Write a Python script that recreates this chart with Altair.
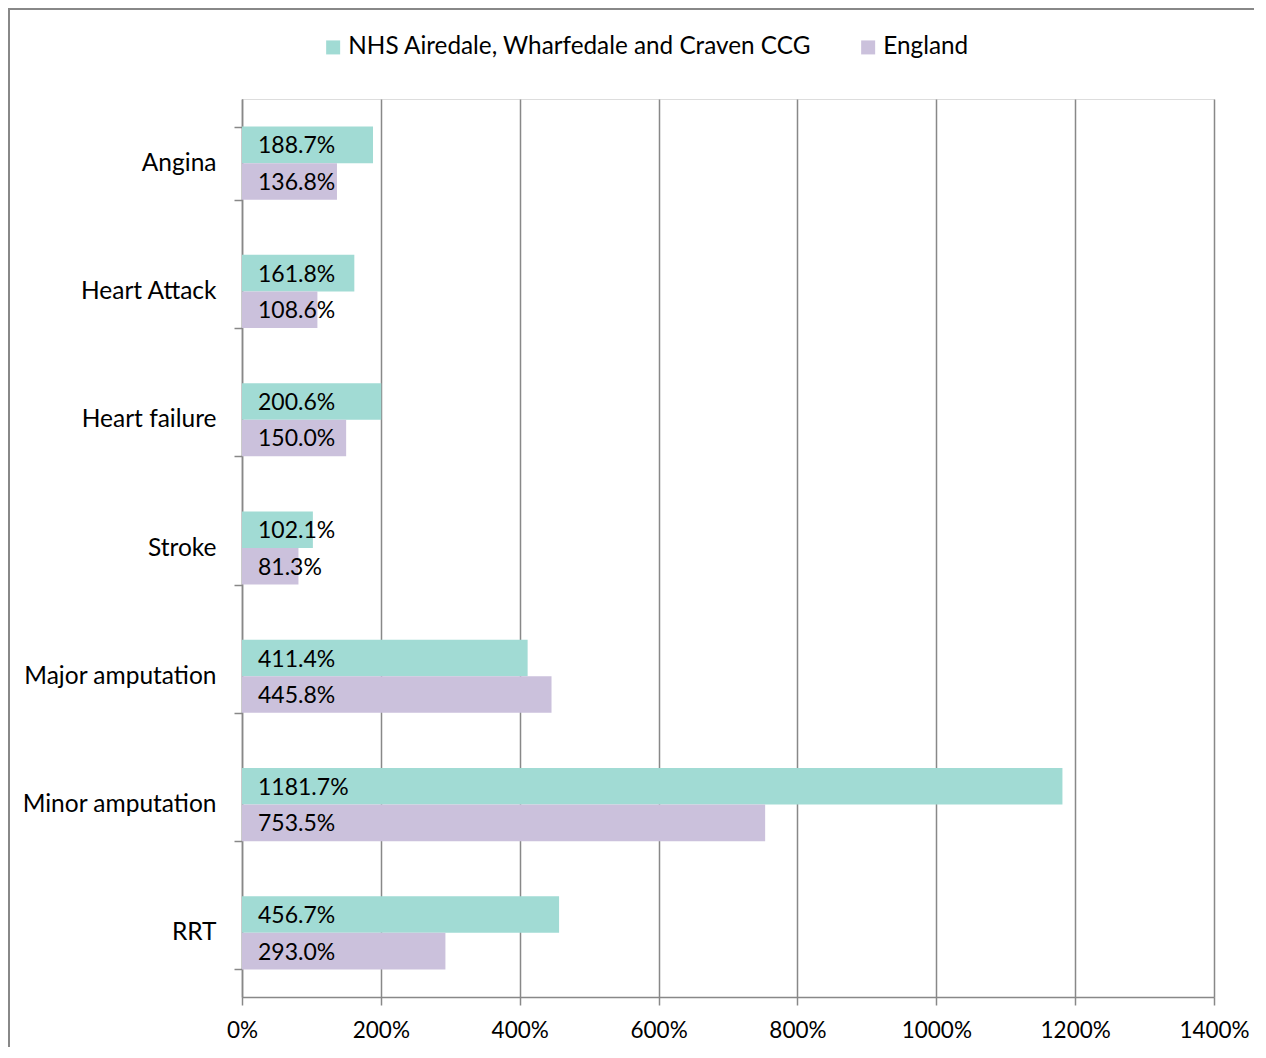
import altair as alt
import pandas as pd

categories = ["Angina", "Heart Attack", "Heart failure", "Stroke",
              "Major amputation", "Minor amputation", "RRT"]
series_names = ["NHS Airedale, Wharfedale and Craven CCG", "England"]
ccg_values = [188.7, 161.8, 200.6, 102.1, 411.4, 1181.7, 456.7]
england_values = [136.8, 108.6, 150.0, 81.3, 445.8, 753.5, 293.0]
x_ticks = [0, 200, 400, 600, 800, 1000, 1200, 1400]
colors = ["#A1DBD4", "#CBC1DC"]

rows = []
for c, a, b in zip(categories, ccg_values, england_values):
    rows.append({"category": c, "series": series_names[0], "value": a, "order": 0})
    rows.append({"category": c, "series": series_names[1], "value": b, "order": 1})
df = pd.DataFrame(rows)

FONT = "Lato"
W, H = 972, 898

base = alt.Chart(df).encode(
    y=alt.Y("category:N", sort=categories, title=None,
            scale=alt.Scale(paddingInner=0.43, paddingOuter=0.215),
            axis=alt.Axis(tickBand="extent", tickSize=8, labelPadding=18,
                          labelFontSize=24.5, labelColor="#000000", labelFont=FONT,
                          labelLimit=400,
                          domainColor="#888888", tickColor="#888888",
                          domainWidth=1.5, tickWidth=1.5, grid=False)),
    yOffset=alt.YOffset("series:N", sort=series_names,
                        scale=alt.Scale(paddingInner=0, paddingOuter=0)),
)

bars = base.mark_bar().encode(
    x=alt.X("value:Q", title=None,
            scale=alt.Scale(domain=[0, 1400], nice=False),
            axis=alt.Axis(values=x_ticks, labelExpr="datum.value + '%'",
                          tickSize=8, labelPadding=14, labelFontSize=22.5,
                          labelFlush=False,
                          labelColor="#000000", labelFont=FONT,
                          domainColor="#888888", tickColor="#888888",
                          domainWidth=1.5, tickWidth=1.5,
                          grid=True, gridColor="#888888", gridWidth=1.5)),
    color=alt.Color("series:N", sort=series_names,
                    scale=alt.Scale(domain=series_names, range=colors),
                    legend=alt.Legend(title=None, orient="none", direction="horizontal",
                                      legendX=79, legendY=-64,
                                      symbolType="square", symbolSize=196,
                                      symbolStrokeWidth=0, labelFontSize=24.3,
                                      labelFont=FONT, labelColor="#000000",
                                      labelOffset=3, columnPadding=44,
                                      labelLimit=600)),
)

labels = base.mark_text(align="left", baseline="middle", dx=16, dy=1.5, fontSize=23,
                        font=FONT, color="#000000").transform_calculate(
    label="format(datum.value, '.1f') + '%'"
).encode(
    x=alt.datum(0),
    text="label:N",
)

frame_df = pd.DataFrame({"k": [0]})
frame_top = alt.Chart(frame_df).mark_rule(color="#888888", strokeWidth=2).encode(
    x=alt.value(-234), x2=alt.value(W + 60), y=alt.value(-90))
frame_left = alt.Chart(frame_df).mark_rule(color="#888888", strokeWidth=2).encode(
    x=alt.value(-233), y=alt.value(-91), y2=alt.value(H + 80))

chart = alt.layer(frame_top, frame_left, bars, labels).properties(
    width=W, height=H,
    autosize=alt.AutoSizeParams(type="none"),
    padding={"left": 234, "top": 91, "right": 40, "bottom": 50},
).configure_view(strokeWidth=0, stroke="transparent").configure(font=FONT)

chart.save("out.html", embed_options={"renderer": "svg", "actions": False})
